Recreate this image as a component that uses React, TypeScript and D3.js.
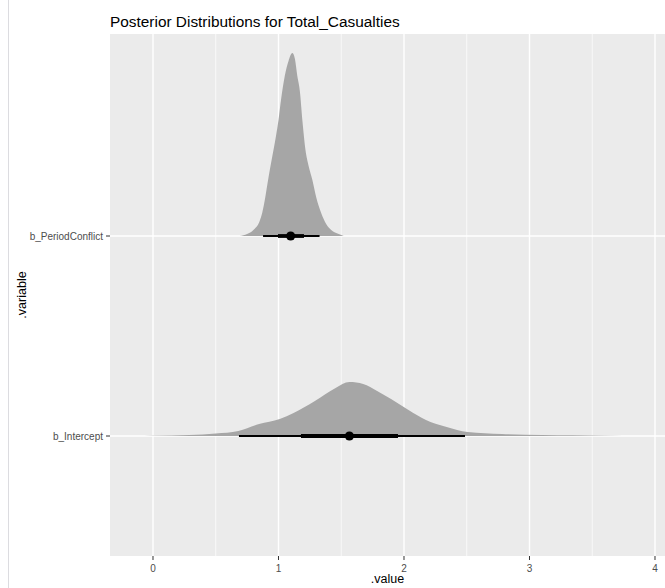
import React from "react";
import * as d3 from "d3";

const TITLE = "Posterior Distributions for Total_Casualties";
const categories = ["b_Intercept", "b_PeriodConflict"];
const xTicks = [0, 1, 2, 3, 4];
const xMinor = [0.5, 1.5, 2.5, 3.5];

// density curves [value, density]
const densityPeriodConflict: [number, number][] = [
  [0.69, 0], [0.75, 0.04], [0.8, 0.12], [0.85, 0.3], [0.87, 0.46], [0.895, 0.78],
  [0.917, 1.12], [0.94, 1.45], [0.96, 1.72], [0.98, 2.0], [1.0, 2.32], [1.02, 2.72],
  [1.05, 3.2], [1.08, 3.5], [1.11, 3.66], [1.13, 3.55], [1.15, 3.2], [1.17, 2.9],
  [1.19, 2.32], [1.215, 1.72], [1.24, 1.4], [1.27, 1.12], [1.3, 0.78], [1.34, 0.46],
  [1.38, 0.24], [1.42, 0.12], [1.48, 0.04], [1.52, 0],
];
const densityIntercept: [number, number][] = [
  [-0.14, 0], [0.0, 0.005], [0.29, 0.02], [0.5, 0.05], [0.68, 0.1], [0.845, 0.24],
  [1.01, 0.34], [1.12, 0.46], [1.29, 0.7], [1.455, 0.96], [1.565, 1.08], [1.675, 1.04],
  [1.786, 0.9], [1.897, 0.74], [2.036, 0.52], [2.175, 0.32], [2.34, 0.18], [2.507, 0.08],
  [2.78, 0.04], [3.1, 0.02], [3.34, 0.014], [3.6, 0.006], [3.89, 0],
];
const densities = [densityIntercept, densityPeriodConflict];

// point estimate and intervals
const pointEstimates = [1.565, 1.097];
const interval66: [number, number][] = [[1.179, 1.952], [0.996, 1.203]];
const interval95: [number, number][] = [[0.685, 2.486], [0.877, 1.327]];

export default function App() {
  const W = 665, H = 588;
  const pl = 110, pr = 665, pt = 34, pb = 556;
  const x = d3.scaleLinear().domain([-0.3426, 4.0797]).range([pl, pr]);
  const y = d3.scaleLinear().domain([0.4, 3.01]).range([pb, pt]);
  const slab = 0.25;
  const font = "'Liberation Sans', Arial, sans-serif";

  const area = (pos: number) =>
    d3.area<[number, number]>()
      .x((d) => x(d[0]))
      .y0(y(pos))
      .y1((d) => y(pos + d[1] * slab))
      .curve(d3.curveMonotoneX);

  return (
    <svg width={W} height={H} style={{ position: "absolute", left: 0, top: 0, background: "#fff" }} fontFamily={font}>
      <line x1={8.5} x2={8.5} y1={0} y2={H} stroke="#dcdce0" strokeWidth={1} />
      <rect x={pl} y={pt} width={pr - pl} height={pb - pt} fill="#EBEBEB" />
      {xMinor.map((v) => (
        <line key={"mn" + v} x1={x(v)} x2={x(v)} y1={pt} y2={pb} stroke="#fff" strokeWidth={0.7} />
      ))}
      {xTicks.map((v) => (
        <line key={"mj" + v} x1={x(v)} x2={x(v)} y1={pt} y2={pb} stroke="#fff" strokeWidth={1.4} />
      ))}
      {categories.map((c, i) => (
        <line key={"hy" + c} x1={pl} x2={pr} y1={y(i + 1)} y2={y(i + 1)} stroke="#fff" strokeWidth={1.4} />
      ))}
      {densities.map((d, i) => (
        <path key={"d" + i} d={area(i + 1)(d) || ""} fill="#A6A6A6" />
      ))}
      {categories.map((c, i) => (
        <g key={"iv" + c}>
          <line x1={x(interval95[i][0])} x2={x(interval95[i][1])} y1={y(i + 1)} y2={y(i + 1)} stroke="#000" strokeWidth={1.9} />
          <line x1={x(interval66[i][0])} x2={x(interval66[i][1])} y1={y(i + 1)} y2={y(i + 1)} stroke="#000" strokeWidth={3.8} />
          <circle cx={x(pointEstimates[i])} cy={y(i + 1)} r={4.6} fill="#000" />
        </g>
      ))}
      {categories.map((c, i) => (
        <g key={"yt" + c}>
          <line x1={pl - 4} x2={pl} y1={y(i + 1)} y2={y(i + 1)} stroke="#333" strokeWidth={1} />
          <text x={pl - 7} y={y(i + 1)} dy="0.35em" textAnchor="end" fontSize={10} fill="#4D4D4D">{c}</text>
        </g>
      ))}
      {xTicks.map((v) => (
        <g key={"xt" + v}>
          <line x1={x(v)} x2={x(v)} y1={pb} y2={pb + 4} stroke="#333" strokeWidth={1} />
          <text x={x(v)} y={pb + 16} textAnchor="middle" fontSize={10} fill="#4D4D4D">{v}</text>
        </g>
      ))}
      <text x={(pl + pr) / 2} y={583} textAnchor="middle" fontSize={12.5} fill="#000">.value</text>
      <text transform={`translate(26,${(pt + pb) / 2}) rotate(-90)`} textAnchor="middle" fontSize={12.5} fill="#000">.variable</text>
      <text x={pl} y={26.5} fontSize={15.4} fill="#000">{TITLE}</text>
    </svg>
  );
}
